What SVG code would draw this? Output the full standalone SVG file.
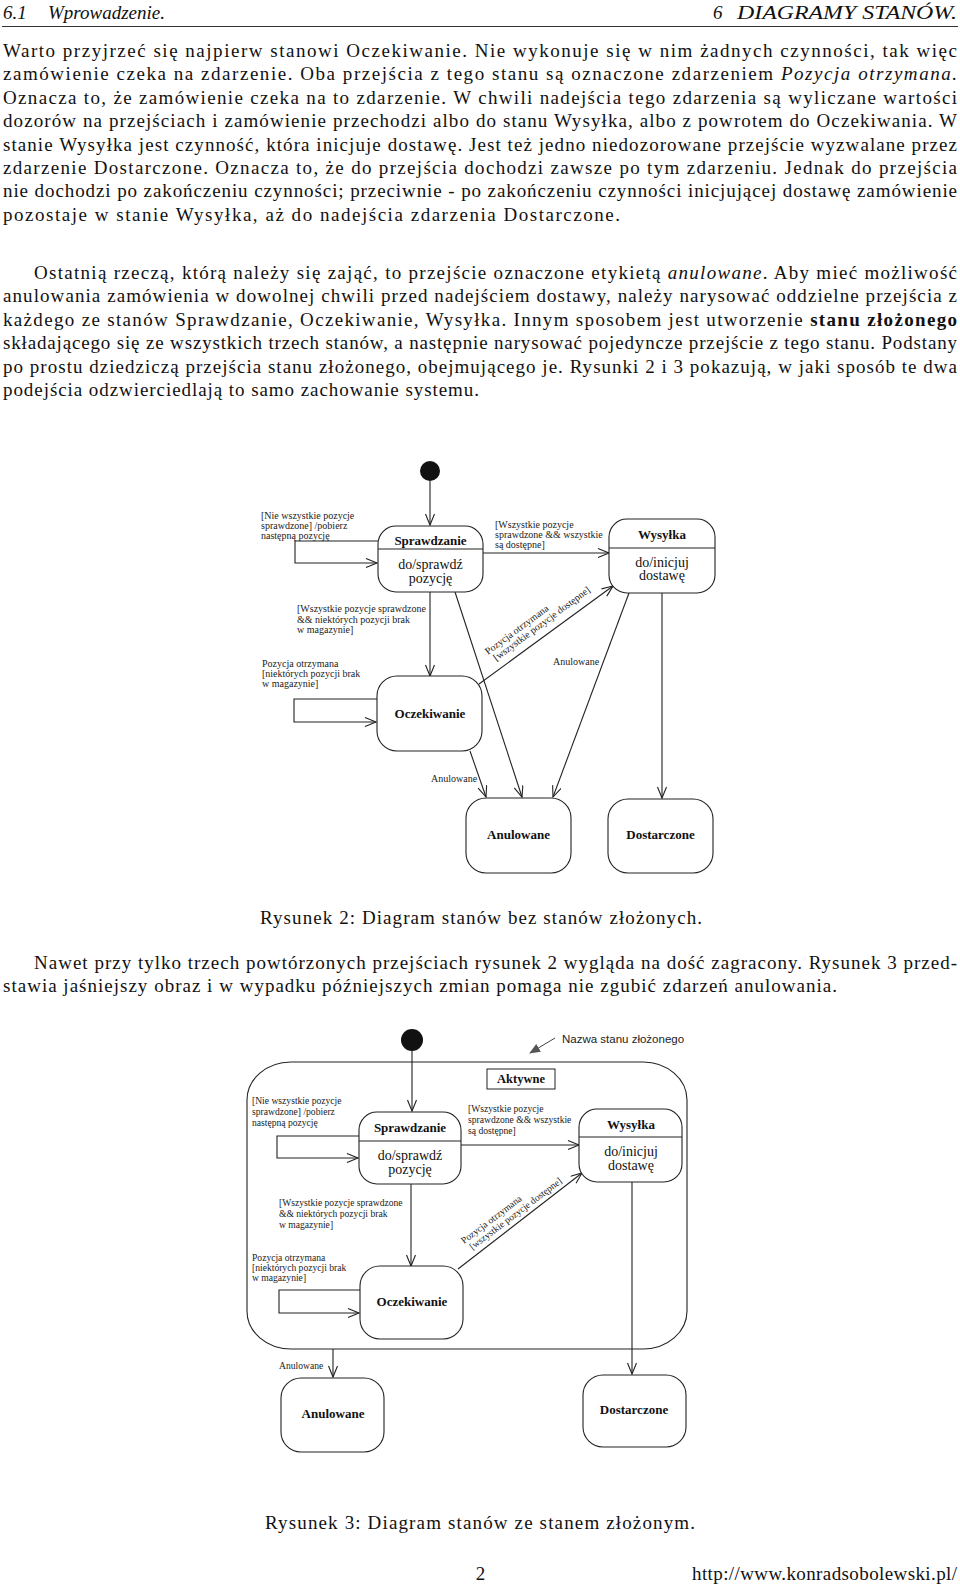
<svg xmlns="http://www.w3.org/2000/svg" width="960" height="1589" viewBox="0 0 960 1589">
<style>
.body{font-family:"Liberation Serif","Times New Roman",serif;font-size:19px;fill:#111}
.it{font-style:italic}
.bd{font-weight:bold}
.st{fill:#fff;stroke:#222;stroke-width:1.1}
.ln{fill:none;stroke:#222;stroke-width:1.1}
.lbl{font-family:"Liberation Serif","Times New Roman",serif;font-size:10px;fill:#222}
.lbl2{font-family:"Liberation Serif","Times New Roman",serif;font-size:9.6px;fill:#222}
.ttl{font-family:"Liberation Serif","Times New Roman",serif;font-size:13px;font-weight:bold;fill:#111;text-anchor:middle}
.act{font-family:"Liberation Serif","Times New Roman",serif;font-size:14px;fill:#111;text-anchor:middle}
.sans{font-family:"Liberation Sans",Arial,sans-serif;font-size:11.5px;fill:#222}
</style>
<defs>
<marker id="open" markerUnits="userSpaceOnUse" markerWidth="14" markerHeight="12" refX="12" refY="5" orient="auto" viewBox="0 0 14 12"><path d="M1,0.5 L12,5 L1,9.5" fill="none" stroke="#222" stroke-width="1.1"/></marker>
<marker id="filled" markerUnits="userSpaceOnUse" markerWidth="12" markerHeight="10" refX="10" refY="4.5" orient="auto" viewBox="0 0 12 10"><path d="M0,0 L11,4.5 L0,9 z" fill="#555"/></marker>
</defs>
<rect width="960" height="1589" fill="#fff"/>

<g id="page-text" class="body">
<text x="3" y="19" class="it">6.1</text>
<text x="48" y="19" class="it">Wprowadzenie.</text>
<text x="713" y="19" class="it">6</text>
<text x="737" y="19" class="it" textLength="220" lengthAdjust="spacingAndGlyphs">DIAGRAMY STANÓW.</text>
<line x1="2" y1="26.5" x2="958" y2="26.5" stroke="#333" stroke-width="1"/>

<text x="3" y="57" textLength="954" lengthAdjust="spacing">Warto przyjrzeć się najpierw stanowi Oczekiwanie. Nie wykonuje się w nim żadnych czynności, tak więc</text>
<text x="3" y="80.4" textLength="954" lengthAdjust="spacing">zamówienie czeka na zdarzenie. Oba przejścia z tego stanu są oznaczone zdarzeniem <tspan class="it">Pozycja otrzymana.</tspan></text>
<text x="3" y="103.8" textLength="954" lengthAdjust="spacing">Oznacza to, że zamówienie czeka na to zdarzenie. W chwili nadejścia tego zdarzenia są wyliczane wartości</text>
<text x="3" y="127.2" textLength="954" lengthAdjust="spacing">dozorów na przejściach i zamówienie przechodzi albo do stanu Wysyłka, albo z powrotem do Oczekiwania. W</text>
<text x="3" y="150.6" textLength="954" lengthAdjust="spacing">stanie Wysyłka jest czynność, która inicjuje dostawę. Jest też jedno niedozorowane przejście wyzwalane przez</text>
<text x="3" y="174" textLength="954" lengthAdjust="spacing">zdarzenie Dostarczone. Oznacza to, że do przejścia dochodzi zawsze po tym zdarzeniu. Jednak do przejścia</text>
<text x="3" y="197.4" textLength="954" lengthAdjust="spacing">nie dochodzi po zakończeniu czynności; przeciwnie - po zakończeniu czynności inicjującej dostawę zamówienie</text>
<text x="3" y="220.8" textLength="617" lengthAdjust="spacing">pozostaje w stanie Wysyłka, aż do nadejścia zdarzenia Dostarczone.</text>

<text x="34" y="279" textLength="923" lengthAdjust="spacing">Ostatnią rzeczą, którą należy się zająć, to przejście oznaczone etykietą <tspan class="it">anulowane</tspan>. Aby mieć możliwość</text>
<text x="3" y="302.4" textLength="954" lengthAdjust="spacing">anulowania zamówienia w dowolnej chwili przed nadejściem dostawy, należy narysować oddzielne przejścia z</text>
<text x="3" y="325.8" textLength="954" lengthAdjust="spacing">każdego ze stanów Sprawdzanie, Oczekiwanie, Wysyłka. Innym sposobem jest utworzenie <tspan class="bd">stanu złożonego</tspan></text>
<text x="3" y="349.2" textLength="954" lengthAdjust="spacing">składającego się ze wszystkich trzech stanów, a następnie narysować pojedyncze przejście z tego stanu. Podstany</text>
<text x="3" y="372.6" textLength="954" lengthAdjust="spacing">po prostu dziedziczą przejścia stanu złożonego, obejmującego je. Rysunki 2 i 3 pokazują, w jaki sposób te dwa</text>
<text x="3" y="396" textLength="476" lengthAdjust="spacing">podejścia odzwierciedlają to samo zachowanie systemu.</text>

<text x="260" y="924" textLength="442" lengthAdjust="spacing">Rysunek 2: Diagram stanów bez stanów złożonych.</text>
<text x="34" y="969" textLength="923" lengthAdjust="spacing">Nawet przy tylko trzech powtórzonych przejściach rysunek 2 wygląda na dość zagracony. Rysunek 3 przed-</text>
<text x="3" y="992.4" textLength="834" lengthAdjust="spacing">stawia jaśniejszy obraz i w wypadku późniejszych zmian pomaga nie zgubić zdarzeń anulowania.</text>

<text x="265" y="1529" textLength="430" lengthAdjust="spacing">Rysunek 3: Diagram stanów ze stanem złożonym.</text>
<text x="480.5" y="1580" text-anchor="middle">2</text>
<text x="692" y="1580" textLength="265" lengthAdjust="spacing">http://www.konradsobolewski.pl/</text>
</g>

<!-- ===== Diagram 1 ===== -->
<g id="d1-connectors">
<line class="ln" x1="430" y1="481" x2="430" y2="525" marker-end="url(#open)"/>
<path class="ln" d="M378,541 H295 V563 H377" marker-end="url(#open)"/>
<line class="ln" x1="483" y1="553" x2="609" y2="553" marker-end="url(#open)"/>
<line class="ln" x1="430" y1="592" x2="430" y2="676" marker-end="url(#open)"/>
<path class="ln" d="M377,699 H294 V722 H376" marker-end="url(#open)"/>
<line class="ln" x1="479" y1="684" x2="613" y2="586" marker-end="url(#open)"/>
<line class="ln" x1="455" y1="592" x2="522" y2="797" marker-end="url(#open)"/>
<line class="ln" x1="629" y1="593" x2="553" y2="797" marker-end="url(#open)"/>
<line class="ln" x1="470" y1="751" x2="486" y2="797" marker-end="url(#open)"/>
<line class="ln" x1="662" y1="593" x2="662" y2="798" marker-end="url(#open)"/>
<g class="lbl">
<text x="261" y="519">[Nie wszystkie pozycje</text>
<text x="261" y="529">sprawdzone] /pobierz</text>
<text x="261" y="539">następną pozycję</text>
<text x="495" y="528">[Wszystkie pozycje</text>
<text x="495" y="538">sprawdzone &amp;&amp; wszystkie</text>
<text x="495" y="548">są dostępne]</text>
<text x="297" y="612">[Wszystkie pozycje sprawdzone</text>
<text x="297" y="623">&amp;&amp; niektórych pozycji brak</text>
<text x="297" y="633">w magazynie]</text>
<text x="262" y="667">Pozycja otrzymana</text>
<text x="262" y="677">[niektórych pozycji brak</text>
<text x="262" y="687">w magazynie]</text>
<text x="553" y="665">Anulowane</text>
<text x="431" y="782">Anulowane</text>
<g transform="translate(488,655) rotate(-36.5)">
<text x="0" y="0">Pozycja otrzymana</text>
<text x="3" y="10">[wszystkie pozycje dostępne]</text>
</g>
</g>
</g>
<g id="d1-start"><circle cx="430" cy="471" r="10" fill="#111"/></g>
<g id="d1-sprawdzanie">
<rect class="st" x="378" y="526" width="105" height="66" rx="18"/>
<line class="ln" x1="378" y1="549" x2="483" y2="549"/>
<text class="ttl" x="430.5" y="545">Sprawdzanie</text>
<text class="act" x="430.5" y="569">do/sprawdź</text>
<text class="act" x="430.5" y="583">pozycję</text>
</g>
<g id="d1-wysylka">
<rect class="st" x="609" y="519" width="106" height="74" rx="18"/>
<line class="ln" x1="609" y1="548" x2="715" y2="548"/>
<text class="ttl" x="662" y="538.5">Wysyłka</text>
<text class="act" x="662" y="566.5">do/inicjuj</text>
<text class="act" x="662" y="580">dostawę</text>
</g>
<g id="d1-oczekiwanie">
<rect class="st" x="377" y="676" width="105" height="75" rx="20"/>
<text class="ttl" x="430" y="717.5">Oczekiwanie</text>
</g>
<g id="d1-anulowane">
<rect class="st" x="466" y="798" width="105" height="75" rx="20"/>
<text class="ttl" x="518.5" y="839">Anulowane</text>
</g>
<g id="d1-dostarczone">
<rect class="st" x="608" y="799" width="105" height="74" rx="20"/>
<text class="ttl" x="660.5" y="839">Dostarczone</text>
</g>

<!-- ===== Diagram 2 ===== -->
<g id="d2-aktywne">
<rect x="247" y="1062" width="440" height="287" rx="44" ry="38" fill="none" stroke="#222" stroke-width="1.1"/>
<rect x="487" y="1069" width="68" height="20" fill="#fff" stroke="#222" stroke-width="1"/>
<text class="ttl" x="521" y="1083" style="font-size:12.5px">Aktywne</text>
</g>
<g id="d2-connectors">
<line class="ln" x1="412" y1="1051" x2="412" y2="1111" marker-end="url(#open)"/>
<path class="ln" d="M359,1136 H277 V1158 H358" marker-end="url(#open)"/>
<line class="ln" x1="461" y1="1145" x2="579" y2="1145" marker-end="url(#open)"/>
<line class="ln" x1="411" y1="1184" x2="411" y2="1266" marker-end="url(#open)"/>
<path class="ln" d="M360,1290 H279 V1313 H359" marker-end="url(#open)"/>
<line class="ln" x1="458" y1="1269" x2="582" y2="1173" marker-end="url(#open)"/>
<line class="ln" x1="632" y1="1182" x2="632" y2="1374" marker-end="url(#open)"/>
<line class="ln" x1="333" y1="1349" x2="333" y2="1377" marker-end="url(#open)"/>
<line x1="555" y1="1038" x2="530" y2="1053" stroke="#444" stroke-width="1" marker-end="url(#filled)"/>
<text class="sans" x="562" y="1043">Nazwa stanu złożonego</text>
<g class="lbl2">
<text x="252" y="1104">[Nie wszystkie pozycje</text>
<text x="252" y="1115">sprawdzone] /pobierz</text>
<text x="252" y="1126">następną pozycję</text>
<text x="468" y="1112">[Wszystkie pozycje</text>
<text x="468" y="1123">sprawdzone &amp;&amp; wszystkie</text>
<text x="468" y="1134">są dostępne]</text>
<text x="279" y="1206">[Wszystkie pozycje sprawdzone</text>
<text x="279" y="1217">&amp;&amp; niektórych pozycji brak</text>
<text x="279" y="1228">w magazynie]</text>
<text x="252" y="1261">Pozycja otrzymana</text>
<text x="252" y="1271">[niektórych pozycji brak</text>
<text x="252" y="1281">w magazynie]</text>
<text x="279" y="1369">Anulowane</text>
<g transform="translate(464,1244) rotate(-37)">
<text x="0" y="0">Pozycja otrzymana</text>
<text x="3" y="10">[wszystkie pozycje dostępne]</text>
</g>
</g>
</g>
<g id="d2-start"><circle cx="412" cy="1040" r="11" fill="#111"/></g>
<g id="d2-sprawdzanie">
<rect class="st" x="359" y="1112" width="102" height="72" rx="18"/>
<line class="ln" x1="359" y1="1141" x2="461" y2="1141"/>
<text class="ttl" x="410" y="1131.5">Sprawdzanie</text>
<text class="act" x="410" y="1160">do/sprawdź</text>
<text class="act" x="410" y="1174">pozycję</text>
</g>
<g id="d2-wysylka">
<rect class="st" x="579" y="1109" width="103" height="73" rx="18"/>
<line class="ln" x1="579" y1="1137" x2="682" y2="1137"/>
<text class="ttl" x="631" y="1128.5">Wysyłka</text>
<text class="act" x="631" y="1156">do/inicjuj</text>
<text class="act" x="631" y="1169.5">dostawę</text>
</g>
<g id="d2-oczekiwanie">
<rect class="st" x="360" y="1266" width="103" height="73" rx="20"/>
<text class="ttl" x="412" y="1306">Oczekiwanie</text>
</g>
<g id="d2-anulowane">
<rect class="st" x="281" y="1378" width="103" height="74" rx="20"/>
<text class="ttl" x="333" y="1418">Anulowane</text>
</g>
<g id="d2-dostarczone">
<rect class="st" x="583" y="1375" width="103" height="72" rx="20"/>
<text class="ttl" x="634" y="1414">Dostarczone</text>
</g>
</svg>
